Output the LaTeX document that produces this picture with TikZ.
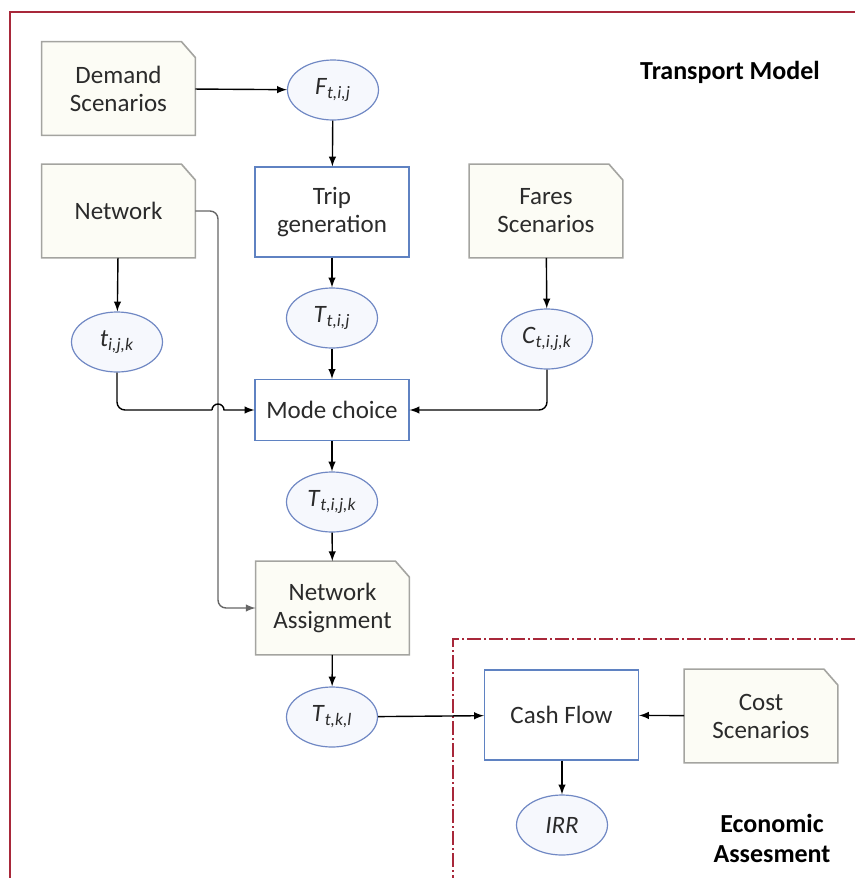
\documentclass[tikz,border=0pt]{standalone}
\usepackage{fontspec}
\setmainfont{Carlito}
\usetikzlibrary{positioning,arrows,calc,backgrounds,shapes.geometric}
\definecolor{docfill}{HTML}{FCFCF5}
\definecolor{docline}{HTML}{A4A4A0}
\definecolor{procline}{HTML}{5F82C2}
\definecolor{varline}{HTML}{7088C4}
\definecolor{varfill}{HTML}{F6F8FD}
\definecolor{framered}{HTML}{A8283A}
\definecolor{txt}{HTML}{2B2B2B}
\tikzset{every node/.style={font=\fontsize{12.5}{14}\selectfont,text=txt,align=center}}
\tikzset{doc/.style={minimum width=76.5pt,minimum height=46.5pt,inner sep=0pt}}
\tikzset{proc/.style={draw=procline,fill=white,line width=0.6pt,minimum width=77pt,minimum height=45pt,inner sep=0pt}}
\tikzset{var/.style={ellipse,draw=varline,fill=varfill,line width=0.6pt,minimum width=45.5pt,minimum height=30pt,inner sep=0pt}}
\tikzset{conn/.style={->,>=latex,black,line width=0.7pt}}
\tikzset{title/.style={font=\fontsize{13}{15}\selectfont\bfseries,text=black}}
\newcommand{\lbl}[2]{\textit{#1}\textsubscript{\textit{#2}}}

\begin{document}
\begin{tikzpicture}[x=0.5pt,y=-0.5pt]

	\useasboundingbox (0,0) rectangle (855,878);

	%% Frames
	\draw[framered,line width=0.9pt] (855,12) -- (10,12) -- (10,878);
	\draw[framered,line width=0.9pt,dash pattern=on 7pt off 1.5pt on 1pt off 1.5pt] (855,639) -- (453,639) -- (453,878);

	%% Inputs
	\node[doc] (dem) at (118.5,88.5) {Demand\\Scenarios};
	\node[doc] (net) at (118.5,211) {Network};
	\node[doc] (fare) at (546,211) {Fares\\Scenarios};
	\node[doc] (assign) at (332.5,608) {Network\\Assignment};
	\node[doc] (cost) at (761,716) {Cost\\Scenarios};

	%% Processes
	\node[proc] (trip) at (332,212) {Trip\\generation};
	\node[proc,minimum height=30.5pt] (mode) at (332,410) {Mode choice};
	\node[proc] (cash) at (561.5,715) {Cash Flow};

	%% Variables
	\node[var] (F) at (333,90) {\lbl{F}{t,i,j}};
	\node[var] (tijk) at (117,342) {\lbl{t}{i,j,k}};
	\node[var] (Ttij) at (332,318) {\lbl{T}{t,i,j}};
	\node[var] (Ctijk) at (547,339) {\lbl{C}{t,i,j,k}};
	\node[var] (Ttijk) at (332,502) {\lbl{T}{t,i,j,k}};
	\node[var] (Ttkl) at (332,717) {\lbl{T}{t,k,l}};
	\node[var] (irr) at (562,825) {\textit{IRR}};

	%% Titles
	\node[title] (tm) at (730,72) {Transport Model};
	\node[title,text width=80pt] (ea) at (772,838) {Economic\\Assesment};

	%% Document shapes with cut corner
	\begin{scope}[on background layer]
	\foreach \n in {dem,net,fare,assign,cost}
		\draw[docline,fill=docfill,line width=0.8pt] (\n.south west) -- (\n.north west) -- ([xshift=-7pt]\n.north east) -- ([yshift=-8pt]\n.north east) -- (\n.south east) -- cycle;
	\end{scope}

	%% Connectors
	\coordinate (hop) at (218,410);
	\coordinate (hopin) at (212,410);
	\draw[conn] (dem) -- (F);
	\draw[conn] (F) -- (trip);
	\draw[conn] (trip) -- (Ttij);
	\draw[conn] (Ttij) -- (mode);
	\draw[conn] (net) -- (tijk);
	\draw[conn] (fare) -- (Ctijk);
	\draw[conn,draw=black!60,rounded corners=4pt] (net.east) -| (hop) |- (assign.west);
	\draw[conn,-,rounded corners=4pt] (tijk.south) |- (hopin);
	\draw[conn] (hopin) arc[start angle=180,end angle=0,radius=3pt] -- (mode.west);
	\draw[conn,rounded corners=4pt] (Ctijk.south) |- (mode.east);
	\draw[conn] (mode) -- (Ttijk);
	\draw[conn] (Ttijk) -- (assign);
	\draw[conn] (assign) -- (Ttkl);
	\draw[conn] (Ttkl) -- (cash);
	\draw[conn] (cost) -- (cash);
	\draw[conn] (cash.south -| irr.north) -- (irr.north);

\end{tikzpicture}
\end{document}
